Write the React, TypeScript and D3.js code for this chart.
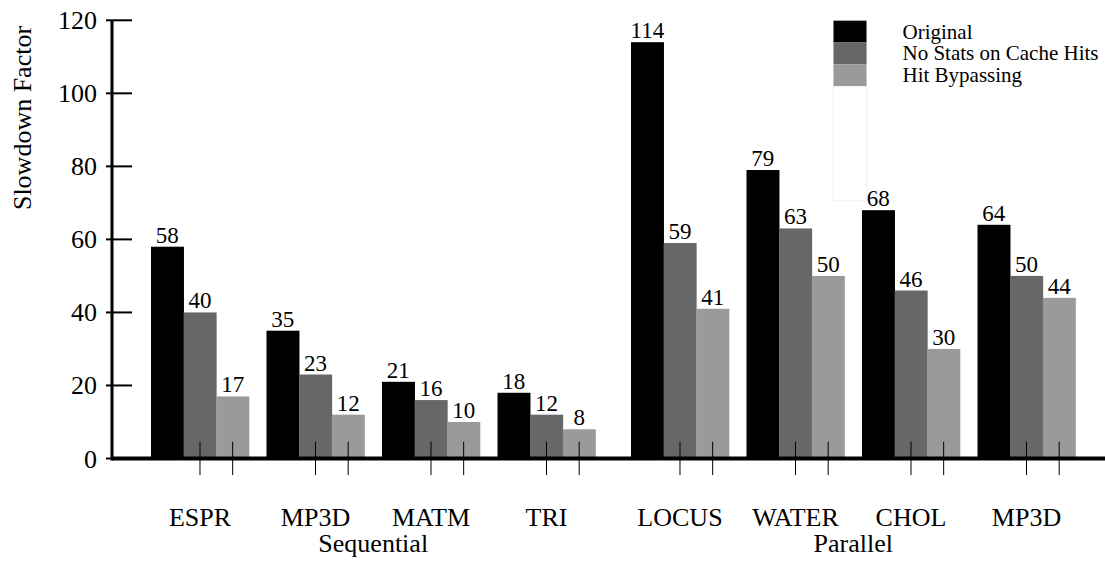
import React, { useEffect, useRef } from "react";
import * as d3 from "d3";

// benchmarks, split in two sections
const sequentialApps = ["ESPR", "MP3D", "MATM", "TRI"];
const parallelApps = ["LOCUS", "WATER", "CHOL", "MP3D"];
const sectionNames = ["Sequential", "Parallel"];

const seriesNames = ["Original", "No Stats on Cache Hits", "Hit Bypassing"];
const seriesColors = ["#000000", "#676767", "#9a9a9a"];

// slowdown per series, in the same order as the apps above
const originalVals = [58, 35, 21, 18, 114, 79, 68, 64];
const noStatsVals = [40, 23, 16, 12, 59, 63, 46, 50];
const bypassVals = [17, 12, 10, 8, 41, 50, 30, 44];

const yTicks = [0, 20, 40, 60, 80, 100, 120];

const FONT =
  "'Liberation Serif', 'Times New Roman', Times, Tinos, 'Nimbus Roman', 'Nimbus Roman No9 L', 'DejaVu Serif', 'Noto Serif', serif";

const App: React.FC = () => {
  const svgRef = useRef<SVGSVGElement>(null);
  const width = 1105;
  const height = 562;

  useEffect(() => {
    if (!svgRef.current) return;
    const svg = d3.select(svgRef.current);
    svg.selectAll("*").remove();

    const axisX = 112;
    const yScale = d3.scaleLinear().domain([0, 120]).range([458.5, 20.3]);

    // legend
    const legendX = 833.5;
    const legendY = 20.7;
    const rowH = 21.8;
    // faint box left under the legend swatches
    svg.append("rect")
      .attr("x", legendX)
      .attr("y", legendY)
      .attr("width", 33)
      .attr("height", 180)
      .attr("fill", "none")
      .attr("stroke", "#f3f3f3")
      .attr("stroke-width", 1);

    const sections = [
      { name: sectionNames[0], apps: sequentialApps, offset: 0, range: [142.25, 604.25] },
      { name: sectionNames[1], apps: parallelApps, offset: sequentialApps.length, range: [622.25, 1084.25] }
    ];
    const allVals = [originalVals, noStatsVals, bypassVals];

    const sub = d3.scaleBand<number>().domain([0, 1, 2]);

    sections.forEach((sec) => {
      const ids = sec.apps.map((_, i) => String(sec.offset + i));
      const x = d3.scaleBand<string>()
        .domain(ids)
        .range(sec.range as [number, number])
        .paddingInner(0.1515)
        .paddingOuter(0.0757);
      sub.range([0, x.bandwidth()]);

      const groups = svg.append("g")
        .selectAll("g")
        .data(ids)
        .join("g")
        .attr("transform", d => `translate(${x(d)},0)`);

      groups.selectAll("rect")
        .data(d => allVals.map((vals, s) => ({ s, v: vals[+d] })))
        .join("rect")
        .attr("x", d => sub(d.s)!)
        .attr("y", d => yScale(d.v))
        .attr("width", sub.bandwidth() + 0.3)
        .attr("height", d => yScale(0) - yScale(d.v))
        .attr("fill", d => seriesColors[d.s]);

      groups.selectAll("text.val")
        .data(d => allVals.map((vals, s) => ({ s, v: vals[+d] })))
        .join("text")
        .attr("class", "val")
        .attr("x", d => sub(d.s)! + sub.bandwidth() / 2)
        .attr("y", d => yScale(d.v) - 4)
        .attr("text-anchor", "middle")
        .style("font-family", FONT)
        .style("font-size", "23px")
        .text(d => d.v);

      // little marks under the 2nd and 3rd bars
      groups.selectAll("line.mark")
        .data([1, 2])
        .join("line")
        .attr("class", "mark")
        .attr("x1", s => sub(s)! + sub.bandwidth() / 2)
        .attr("x2", s => sub(s)! + sub.bandwidth() / 2)
        .attr("y1", 441.7)
        .attr("y2", 475)
        .attr("stroke", "#000")
        .attr("stroke-width", 1);

      groups.append("text")
        .attr("x", sub(1)! + sub.bandwidth() / 2)
        .attr("y", 526)
        .attr("text-anchor", "middle")
        .style("font-family", FONT)
        .style("font-size", "26px")
        .text((d) => sec.apps[+d - sec.offset]);

      svg.append("text")
        .attr("x", (sec.range[0] + sec.range[1]) / 2)
        .attr("y", 552)
        .attr("text-anchor", "middle")
        .style("font-family", FONT)
        .style("font-size", "26px")
        .text(sec.name);
    });

    // baseline
    svg.append("line")
      .attr("x1", axisX)
      .attr("x2", width)
      .attr("y1", yScale(0))
      .attr("y2", yScale(0))
      .attr("stroke", "#000")
      .attr("stroke-width", 4);

    // y axis
    svg.append("line")
      .attr("x1", axisX)
      .attr("x2", axisX)
      .attr("y1", yScale(120))
      .attr("y2", yScale(0) + 2)
      .attr("stroke", "#000")
      .attr("stroke-width", 3);

    svg.append("g")
      .selectAll("line")
      .data(yTicks)
      .join("line")
      .attr("x1", axisX - 6)
      .attr("x2", axisX + 20)
      .attr("y1", d => yScale(d))
      .attr("y2", d => yScale(d))
      .attr("stroke", "#000")
      .attr("stroke-width", 2);

    svg.append("g")
      .selectAll("text")
      .data(yTicks)
      .join("text")
      .attr("x", axisX - 15)
      .attr("y", d => yScale(d) + 9)
      .attr("text-anchor", "end")
      .style("font-family", FONT)
      .style("font-size", "26px")
      .text(d => d);

    svg.append("text")
      .attr("transform", "translate(31,118) rotate(-90)")
      .attr("text-anchor", "middle")
      .style("font-family", FONT)
      .style("font-size", "26px")
      .text("Slowdown Factor");

    const legend = svg.append("g")
      .selectAll("g")
      .data(seriesNames)
      .join("g")
      .attr("transform", (_, i) => `translate(${legendX},${legendY + i * rowH})`);

    legend.append("rect")
      .attr("width", 33)
      .attr("height", rowH)
      .attr("fill", (_, i) => seriesColors[i]);

    legend.append("text")
      .attr("x", 69)
      .attr("y", rowH / 2 + 7)
      .style("font-family", FONT)
      .style("font-size", "21px")
      .text(d => d);
  }, []);

  return (
    <svg
      ref={svgRef}
      width={width}
      height={height}
      style={{ position: "absolute", left: 0, top: 0, background: "#fff" }}
    />
  );
};

export default App;
